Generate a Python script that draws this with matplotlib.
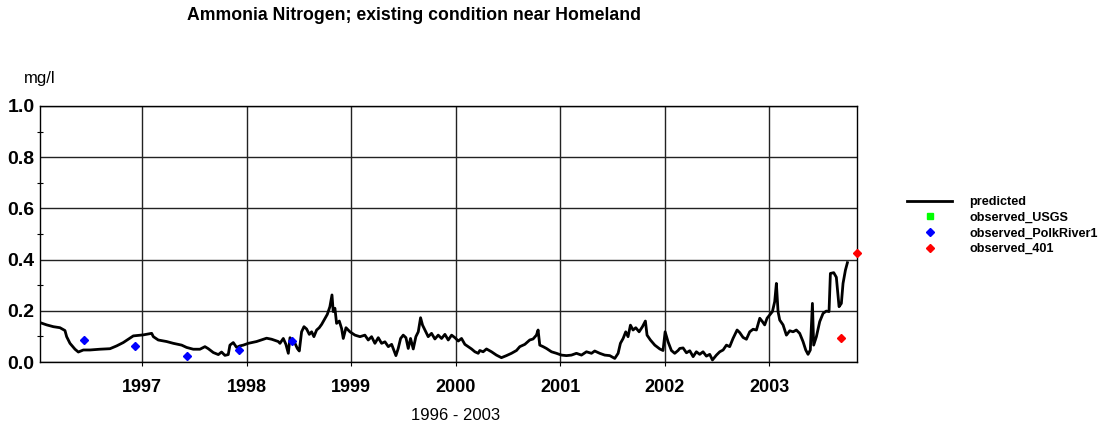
import matplotlib
matplotlib.use("Agg")
import matplotlib.pyplot as plt
from matplotlib.lines import Line2D
from matplotlib.ticker import MultipleLocator

plt.rcParams["font.family"] = ["Liberation Sans", "DejaVu Sans"]

# predicted series, decimal year / mg/l
pred_year = [
    # 1996 - mid 1998
    1996.021, 1996.085, 1996.149, 1996.212, 1996.260, 1996.276, 1996.308, 1996.356,
    1996.388, 1996.436, 1996.499, 1996.595, 1996.691, 1996.755, 1996.818, 1996.882,
    1996.914, 1997.010, 1997.090, 1997.106, 1997.153, 1997.233, 1997.297, 1997.377,
    1997.424, 1997.488, 1997.552, 1997.600, 1997.632, 1997.680, 1997.728, 1997.759,
    1997.791, 1997.823, 1997.839, 1997.871, 1997.903, 1997.935, 1997.967, 1998.015,
    1998.094, 1998.190, 1998.238, 1998.302,
    # mid 1998 - 2000
    1998.318, 1998.350, 1998.375, 1998.398, 1998.414, 1998.439, 1998.462, 1998.484,
    1998.503, 1998.525, 1998.548, 1998.573, 1998.599, 1998.621, 1998.643, 1998.669,
    1998.694, 1998.717, 1998.749, 1998.771, 1998.796, 1998.816, 1998.828, 1998.844,
    1998.860, 1998.886, 1998.908, 1998.924, 1998.950, 1998.988, 1999.036, 1999.084,
    1999.131, 1999.163, 1999.195, 1999.227, 1999.259, 1999.291, 1999.323, 1999.355,
    1999.387, 1999.428, 1999.450, 1999.473, 1999.498, 1999.524, 1999.546, 1999.568,
    1999.594, 1999.619, 1999.642, 1999.664, 1999.683, 1999.706, 1999.737, 1999.769,
    1999.801, 1999.833, 1999.865, 1999.897, 1999.929, 1999.961, 1999.993, 2000.025,
    2000.056, 2000.088, 2000.120, 2000.152, 2000.184, 2000.216,
    # 2000 - early 2002
    2000.231, 2000.263, 2000.295, 2000.343, 2000.390, 2000.438, 2000.486, 2000.534,
    2000.582, 2000.614, 2000.662, 2000.709, 2000.741, 2000.773, 2000.789, 2000.805,
    2000.837, 2000.869, 2000.917, 2000.965, 2001.013, 2001.060, 2001.108, 2001.156,
    2001.204, 2001.252, 2001.300, 2001.331, 2001.379, 2001.427, 2001.475, 2001.523,
    2001.555, 2001.577, 2001.603, 2001.628, 2001.650, 2001.673, 2001.698, 2001.724,
    2001.756, 2001.788, 2001.816, 2001.832, 2001.864, 2001.906, 2001.954, 2001.985,
    2002.005, 2002.033, 2002.065, 2002.097, 2002.129,
    # 2002 - 2003
    2002.145, 2002.177, 2002.209, 2002.241, 2002.273, 2002.304, 2002.336, 2002.368,
    2002.400, 2002.432, 2002.458, 2002.496, 2002.528, 2002.560, 2002.592, 2002.623,
    2002.655, 2002.694, 2002.719, 2002.751, 2002.783, 2002.815, 2002.847, 2002.879,
    2002.911, 2002.936, 2002.958, 2002.981, 2003.006, 2003.032, 2003.054, 2003.070,
    2003.086, 2003.102, 2003.134, 2003.166, 2003.198, 2003.230, 2003.261, 2003.293,
    2003.325, 2003.351, 2003.373, 2003.395, 2003.415, 2003.427, 2003.453, 2003.485,
    2003.517, 2003.548, 2003.574, 2003.587, 2003.619, 2003.644, 2003.670, 2003.692,
    2003.708, 2003.731, 2003.750,
]
pred_val = [
    # 1996 - mid 1998
    0.154, 0.145, 0.138, 0.134, 0.123, 0.099, 0.073, 0.050,
    0.039, 0.047, 0.047, 0.050, 0.052, 0.063, 0.076, 0.093,
    0.102, 0.106, 0.112, 0.099, 0.086, 0.080, 0.073, 0.066,
    0.057, 0.050, 0.050, 0.060, 0.052, 0.037, 0.029, 0.039,
    0.026, 0.029, 0.066, 0.076, 0.057, 0.063, 0.066, 0.073,
    0.080, 0.093, 0.089, 0.080,
    # mid 1998 - 2000
    0.073, 0.092, 0.069, 0.034, 0.095, 0.082, 0.073, 0.053,
    0.043, 0.118, 0.138, 0.129, 0.108, 0.118, 0.099, 0.125,
    0.134, 0.147, 0.170, 0.186, 0.216, 0.262, 0.197, 0.210,
    0.151, 0.160, 0.131, 0.092, 0.134, 0.118, 0.105, 0.099,
    0.105, 0.086, 0.099, 0.073, 0.095, 0.073, 0.079, 0.060,
    0.069, 0.025, 0.053, 0.092, 0.105, 0.095, 0.053, 0.092,
    0.051, 0.099, 0.118, 0.173, 0.144, 0.125, 0.099, 0.112,
    0.090, 0.105, 0.092, 0.108, 0.086, 0.105, 0.095, 0.082,
    0.092, 0.069, 0.060, 0.051, 0.040, 0.034,
    # 2000 - early 2002
    0.045, 0.040, 0.051, 0.040, 0.027, 0.017, 0.025, 0.034,
    0.045, 0.060, 0.069, 0.086, 0.090, 0.105, 0.125, 0.066,
    0.060, 0.053, 0.040, 0.034, 0.027, 0.025, 0.027, 0.034,
    0.027, 0.040, 0.034, 0.043, 0.034, 0.027, 0.025, 0.014,
    0.034, 0.073, 0.092, 0.118, 0.099, 0.144, 0.125, 0.134,
    0.118, 0.138, 0.160, 0.105, 0.086, 0.066, 0.051, 0.045,
    0.118, 0.079, 0.045, 0.034, 0.045,
    # 2002 - 2003
    0.053, 0.055, 0.036, 0.044, 0.021, 0.040, 0.030, 0.040,
    0.023, 0.030, 0.008, 0.027, 0.040, 0.047, 0.066, 0.060,
    0.092, 0.125, 0.115, 0.096, 0.089, 0.118, 0.128, 0.125,
    0.171, 0.158, 0.145, 0.171, 0.184, 0.197, 0.236, 0.307,
    0.197, 0.164, 0.145, 0.105, 0.122, 0.118, 0.125, 0.112,
    0.080, 0.047, 0.030, 0.047, 0.229, 0.066, 0.099, 0.158,
    0.190, 0.199, 0.197, 0.346, 0.349, 0.331, 0.216, 0.229,
    0.307, 0.359, 0.388,
]

usgs_year = []
usgs_val = []
polk_year = [1996.442, 1996.930, 1997.425, 1997.928, 1998.433]
polk_val = [0.086, 0.063, 0.025, 0.047, 0.082]
obs401_year = [2003.686, 2003.842]
obs401_val = [0.095, 0.425]

years = [1997, 1998, 1999, 2000, 2001, 2002, 2003]
yticks = [0.0, 0.2, 0.4, 0.6, 0.8, 1.0]

fig = plt.figure(figsize=(11.02, 4.30), dpi=100)
ax = fig.add_axes([0.0363, 0.1581, 0.7414, 0.5954])

ax.plot(pred_year, pred_val, color="black", lw=2.0, zorder=3)
ax.plot(usgs_year, usgs_val, ls="none", marker="s", ms=4, color="#00ff00", zorder=4)
ax.plot(polk_year, polk_val, ls="none", marker="D", ms=4, color="#0000ff",
        mec="#0000ff", zorder=4)
ax.plot(obs401_year, obs401_val, ls="none", marker="D", ms=4, color="#ff0000",
        mec="#ff0000", zorder=4, clip_on=False)

ax.set_xlim(1996.021, 2003.842)
ax.set_ylim(0, 1.0)
ax.set_xticks(years)
ax.set_xticklabels([str(y) for y in years], fontsize=13, fontweight="bold")
ax.set_yticks(yticks)
ax.set_yticklabels([f"{v:.1f}" for v in yticks], fontsize=14, fontweight="bold")
ax.yaxis.set_minor_locator(MultipleLocator(0.1))
ax.tick_params(axis="y", which="major", length=0, pad=4)
ax.tick_params(axis="y", which="minor", length=4, direction="inout", width=0.8)
ax.tick_params(axis="x", which="major", length=3, direction="out", pad=9)
ax.grid(True, which="major", color="#222222", lw=1)
for s in ax.spines.values():
    s.set_color("black")
    s.set_linewidth(1)

fig.text(0.3757, 0.963, "Ammonia Nitrogen; existing condition near Homeland",
         ha="center", va="center", fontsize=12.7, fontweight="bold")
fig.text(0.022, 0.818, "mg/l", ha="left", va="center", fontsize=12)
fig.text(0.413, 0.033, "1996 - 2003", ha="center", va="center", fontsize=12)

handles = [
    Line2D([], [], color="black", lw=2.0),
    Line2D([], [], ls="none", marker="s", ms=4, color="#00ff00"),
    Line2D([], [], ls="none", marker="D", ms=4, color="#0000ff"),
    Line2D([], [], ls="none", marker="D", ms=4, color="#ff0000"),
]
labels = ["predicted", "observed_USGS", "observed_PolkRiver1", "observed_401"]
fig.legend(handles, labels, loc="upper left", bbox_to_anchor=(0.8232, 0.544),
           frameon=False, prop={"weight": "bold", "size": 9.1},
           handlelength=3.55, handletextpad=1.35, labelspacing=0.29,
           borderpad=0, borderaxespad=0)

fig.savefig("out.png", dpi=100)
